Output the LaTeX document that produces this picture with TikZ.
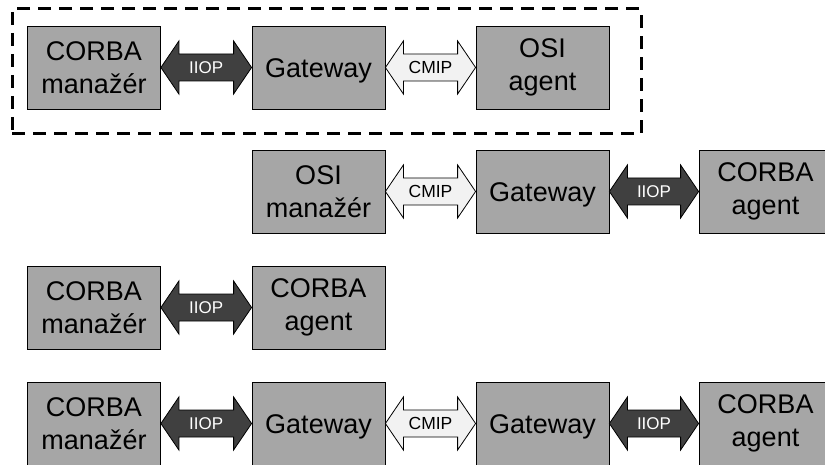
\documentclass[tikz,border=0pt]{standalone}
\usepackage{fontspec}
\setmainfont{Liberation Sans}
\usetikzlibrary{calc}

\definecolor{boxgray}{HTML}{A6A6A6}
\definecolor{arrowdark}{HTML}{404040}
\definecolor{arrowlight}{HTML}{F2F2F2}

\tikzset{
  box/.style={draw=black, line width=0.8pt, fill=boxgray,
    minimum width=133pt, minimum height=83pt, inner sep=0pt,
    align=center, font=\fontsize{27}{33}\selectfont},
  oneline/.style={text height=19.3pt, text depth=0pt},
  iiop/.style={draw=black, line width=0.8pt, fill=arrowdark},
  cmip/.style={draw=black, line width=0.8pt, fill=arrowlight},
  iiop label/.style={text=white, inner sep=0pt, text height=12.5pt, text depth=0pt,
    font=\fontsize{17}{20}\selectfont},
  cmip label/.style={text=black, inner sep=0pt, text height=12.5pt, text depth=0pt,
    font=\fontsize{17.5}{20}\selectfont},
  frame/.style={draw=black, line width=3pt, dash pattern=on 13pt off 8pt,
    minimum width=629pt, minimum height=125pt, inner sep=0pt},
}

% block double arrow between the facing sides of two boxes
\newcommand\protoarrow[5]{%
  \draw[#3] let \p1=(#1.east), \p2=(#2.west) in
    (\x1,\y1) -- (\x1+18pt,\y1+26.5pt) -- (\x1+18pt,\y1+13.5pt)
    -- (\x2-18pt,\y1+13.5pt) -- (\x2-18pt,\y1+26.5pt) -- (\x2,\y1)
    -- (\x2-18pt,\y1-26.5pt) -- (\x2-18pt,\y1-13.5pt)
    -- (\x1+18pt,\y1-13.5pt) -- (\x1+18pt,\y1-26.5pt) -- cycle;
  \node[#3 label] (#4) at ($(#1.east)!0.5!(#2.west)$) {#5};
}

\begin{document}
\begin{tikzpicture}[x=1pt, y=1pt]
  \useasboundingbox (0,0) rectangle (825,-465);

  % dashed frame around the first chain
  \node[frame] (grp) at (326.5,-71.5) {};

  % chain 1
  \node[box] (c1) at (94,-67.5) {CORBA\\manažér};
  \node[box, oneline] (g1) at (318.5,-67.5) {Gateway};
  \node[box] (o1) at (542.5,-67.5) {OSI\\agent};

  % chain 2
  \node[box] (o2) at (318.5,-191.5) {OSI\\manažér};
  \node[box, oneline] (g2) at (542.5,-191.5) {Gateway};
  \node[box] (a2) at (765.5,-191.5) {CORBA\\agent};

  % chain 3
  \node[box] (c3) at (94,-307.5) {CORBA\\manažér};
  \node[box] (a3) at (318.5,-307.5) {CORBA\\agent};

  % chain 4
  \node[box] (c4) at (94,-423.5) {CORBA\\manažér};
  \node[box, oneline] (g4) at (318.5,-423.5) {Gateway};
  \node[box, oneline] (g5) at (542.5,-423.5) {Gateway};
  \node[box] (a4) at (765.5,-423.5) {CORBA\\agent};

  % protocol links
  \protoarrow{c1}{g1}{iiop}{l1}{IIOP}
  \protoarrow{g1}{o1}{cmip}{l2}{CMIP}
  \protoarrow{o2}{g2}{cmip}{l3}{CMIP}
  \protoarrow{g2}{a2}{iiop}{l4}{IIOP}
  \protoarrow{c3}{a3}{iiop}{l5}{IIOP}
  \protoarrow{c4}{g4}{iiop}{l6}{IIOP}
  \protoarrow{g4}{g5}{cmip}{l7}{CMIP}
  \protoarrow{g5}{a4}{iiop}{l8}{IIOP}
\end{tikzpicture}
\end{document}
